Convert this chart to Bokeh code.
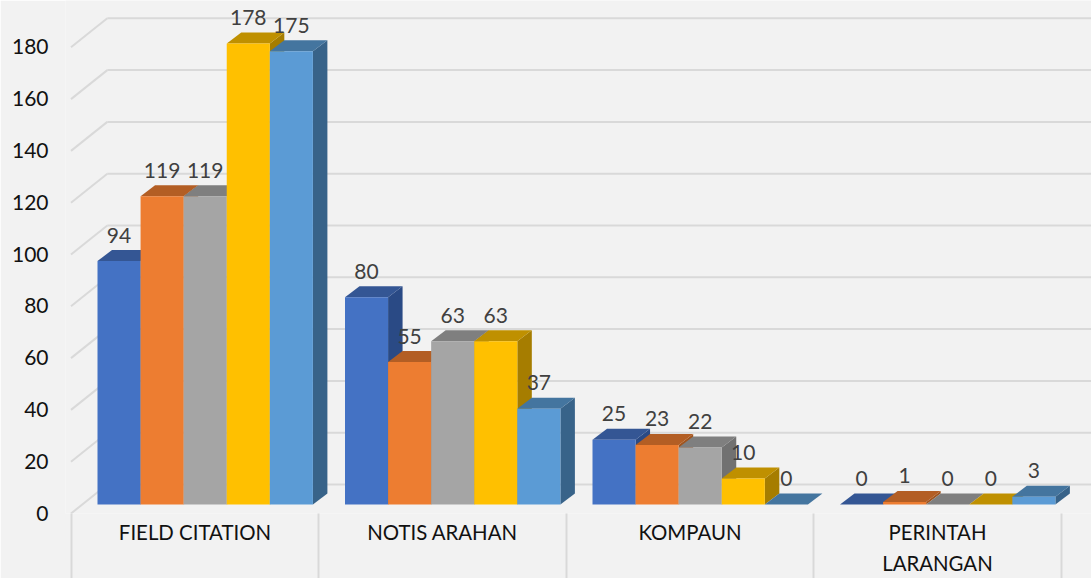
from bokeh.plotting import figure
from bokeh.models import Range1d, LinearAxis, FixedTicker
from bokeh.core.properties import value
from bokeh.embed import file_html
from bokeh.resources import INLINE

categories = ["FIELD CITATION", "NOTIS ARAHAN", "KOMPAUN", "PERINTAH\nLARANGAN"]
series_a = [94, 80, 25, 0]
series_b = [119, 55, 23, 1]
series_c = [119, 63, 22, 0]
series_d = [178, 63, 10, 0]
series_e = [175, 37, 0, 3]
all_series = [series_a, series_b, series_c, series_d, series_e]
front_colors = ["#4472c4", "#ed7d31", "#a5a5a5", "#ffc000", "#5b9bd5"]
top_colors = ["#345694", "#b35e24", "#7f7f7f", "#bf9000", "#44759f"]
side_colors = ["#2a4a85", "#a0541e", "#717171", "#a67d00", "#386389"]
y_ticks = list(range(0, 181, 20))

BG, GRID = "#f2f2f2", "#d9d9d9"
FONT = "Lato"
FS = "21px"
# geometry, in reference-image pixels
CAT_PX, X0 = 247.5, 70.7
BAR_PX, BAR_START = 43.08, 97.0
UNIT_PX, BASE_Y = 2.59, 504.0
FRAME_L, FRAME_R, FRAME_T, FRAME_B = 65.0, 1091.0, 0.0, 513.0
DX, DY = 14.5, 11.0           # bar depth
WALL_DX, WALL_BACK, WALL_FRONT = 36.3, 20.0, -9.0   # wall depth


def xu(px):
    return px / CAT_PX


def yu(px):
    return px / UNIT_PX


p = figure(
    width=1091, height=578, output_backend="svg", toolbar_location=None,
    x_range=Range1d((FRAME_L - X0) / CAT_PX, (FRAME_R - X0) / CAT_PX),
    y_range=Range1d((BASE_Y - FRAME_B) / UNIT_PX, (BASE_Y - FRAME_T) / UNIT_PX),
    x_axis_location=None, y_axis_location=None,
    min_border_left=int(FRAME_L), min_border_right=0,
    min_border_top=0, min_border_bottom=0,
    background_fill_color=BG, border_fill_color=BG,
)
p.outline_line_color = None
p.xgrid.visible = False
p.ygrid.visible = False

# value axis, placed on the front edge of the floor
p.extra_y_ranges["front"] = Range1d(0, (FRAME_B - FRAME_T) / 2.594)
ya = LinearAxis(y_range_name="front", ticker=FixedTicker(ticks=y_ticks))
ya.axis_line_color = None
ya.major_tick_line_color = None
ya.minor_tick_line_color = None
ya.major_tick_out = 0
ya.minor_tick_out = 0
ya.major_label_standoff = 17
ya.major_label_text_font = FONT
ya.major_label_text_font_size = FS
ya.major_label_text_color = "#111111"
p.add_layout(ya, "left")

# category axis, separators are its minor ticks
n = len(categories)
xa = LinearAxis(ticker=FixedTicker(ticks=[i + 0.5 for i in range(n)],
                                   minor_ticks=list(range(n + 1))))
xa.major_label_overrides = {i + 0.5: c for i, c in enumerate(categories)}
xa.axis_line_color = None
xa.major_tick_line_color = None
xa.major_tick_out = 0
xa.minor_tick_out = 65
xa.minor_tick_in = 0
xa.minor_tick_line_color = GRID
xa.minor_tick_line_width = 2
xa.major_label_standoff = -59
xa.major_label_text_font = FONT
xa.major_label_text_font_size = "20.4px"
xa.major_label_text_color = "#111111"
xa.major_label_text_line_height = 1.32
p.add_layout(xa, "below")

# walls
x_front = (FRAME_L + 5.5 - X0) / CAT_PX
x_back = x_front + xu(WALL_DX)
x_end = (FRAME_R - X0) / CAT_PX
back_y = [t + yu(WALL_BACK) for t in y_ticks]
front_y = [t + yu(WALL_FRONT) for t in y_ticks]
p.segment([x_front] * len(y_ticks), front_y, [x_back] * len(y_ticks), back_y,
          line_color=GRID, line_width=2)
p.segment([x_back] * len(y_ticks), back_y, [x_end] * len(y_ticks), back_y,
          line_color=GRID, line_width=2)

# bars
label_x, label_y, label_t = [], [], []
for s, vals in enumerate(all_series):
    left = [k + xu(BAR_START - X0 + BAR_PX * s) for k in range(n)]
    right = [l + xu(BAR_PX) for l in left]
    dx, dy = xu(DX), yu(DY)
    p.patches(
        [[r, r + dx, r + dx, r] for r in right],
        [[0, dy, v + dy, v] for v in vals],
        fill_color=side_colors[s], line_color=None,
    )
    p.patches(
        [[l, l + dx, r + dx, r] for l, r in zip(left, right)],
        [[v, v + dy, v + dy, v] for v in vals],
        fill_color=top_colors[s], line_color=None,
    )
    p.vbar(x=[(l + r) / 2 for l, r in zip(left, right)], top=vals, bottom=0,
           width=xu(BAR_PX), fill_color=front_colors[s], line_color=None)
    label_x += [(l + r) / 2 for l, r in zip(left, right)]
    label_y += vals
    label_t += [str(v) for v in vals]

p.text(x=label_x, y=label_y, text=label_t, y_offset=-26,
       text_align="center", text_baseline="middle",
       text_font=value(FONT), text_font_size=FS, text_color="#404040")

open("out.html", "w").write(file_html(p, INLINE))
